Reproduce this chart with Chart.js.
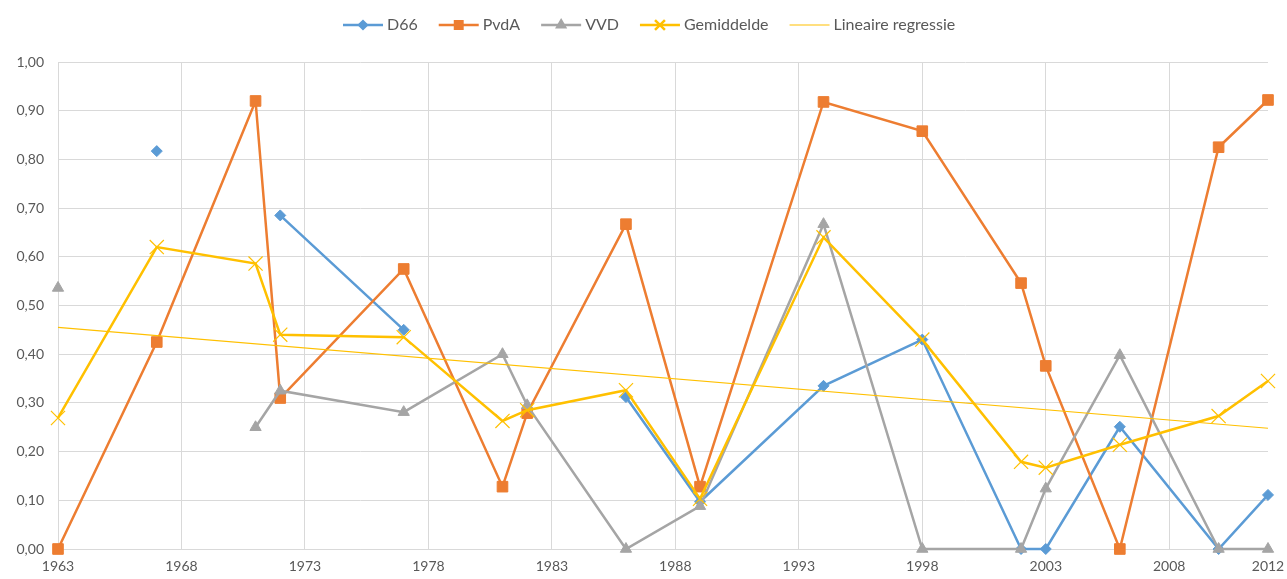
<!DOCTYPE html>
<html>
<head>
<meta charset="utf-8">
<script src="https://cdn.jsdelivr.net/npm/chart.js"></script>
<style>
  html, body { margin: 0; padding: 0; background: #fff; }
  #wrap { width: 1287px; height: 579px; }
</style>
</head>
<body>
<div id="wrap"><canvas id="chart" width="1287" height="579"></canvas></div>
<script>
// election years (x positions on the linear axis)
const years = [1963, 1967, 1971, 1972, 1977, 1981, 1982, 1986, 1989, 1994, 1998, 2002, 2003, 2006, 2010, 2012];

const d66 = [null, 0.817, null, 0.685, 0.45, null, null, 0.312, 0.097, 0.335, 0.43, 0, 0, 0.251, 0, 0.111];
const pvda = [0, 0.425, 0.92, 0.31, 0.575, 0.128, 0.279, 0.667, 0.128, 0.918, 0.858, 0.546, 0.376, 0, 0.825, 0.922];
const vvd = [0.536, null, 0.25, 0.325, 0.281, 0.40, 0.295, 0, 0.088, 0.667, 0, 0, 0.124, 0.398, 0, 0];
const gemiddelde = [0.269, 0.62, 0.586, 0.44, 0.435, 0.263, 0.285, 0.326, 0.103, 0.64, 0.43, 0.179, 0.167, 0.214, 0.273, 0.345];

// trendline end points
const trendYears = [1963, 2012];
const trendValues = [0.455, 0.248];

const xTicks = [1963, 1968, 1973, 1978, 1983, 1988, 1993, 1998, 2003, 2008, 2012];

const TEXT = '#595959';
const GRID = '#d9d9d9';
const FONT = 'Lato, "Liberation Sans", sans-serif';

function points(xs, ys) {
    return xs.map((x, i) => ({ x: x, y: ys[i] }));
}

function series(label, values, color, style, radius, order) {
    return {
        label: label,
        data: points(years, values),
        borderColor: color,
        backgroundColor: color,
        borderWidth: 2.5,
        pointStyle: style,
        pointRadius: radius,
        pointBorderColor: color,
        pointBackgroundColor: color,
        pointBorderWidth: 1,
        spanGaps: false,
        tension: 0,
        clip: false,
        order: order
    };
}

const datasets = [
    series('D66', d66, '#5b9bd5', 'rectRot', 5.5, 5),
    series('PvdA', pvda, '#ed7d31', 'rect', 7.5, 4),
    series('VVD', vvd, '#a5a5a5', 'triangle', 6.5, 3),
    Object.assign(series('Gemiddelde', gemiddelde, '#ffc000', 'crossRot', 10, 2), { pointBorderWidth: 1.2 }),
    {
        label: 'Lineaire regressie',
        data: points(trendYears, trendValues),
        borderColor: '#ffc000',
        borderWidth: 1.2,
        pointRadius: 0,
        clip: false,
        order: 1
    }
];

// Excel style legend: short line with the marker on top of it
const lineLegend = {
    id: 'lineLegend',
    afterDraw(chart) {
        const ctx = chart.ctx;
        let x = 343;
        const y = 25;
        ctx.save();
        ctx.font = '16px ' + FONT;
        ctx.textBaseline = 'middle';
        chart.data.datasets.forEach(ds => {
            ctx.strokeStyle = ds.borderColor;
            ctx.lineWidth = ds.borderWidth;
            ctx.beginPath();
            ctx.moveTo(x, y);
            ctx.lineTo(x + 40, y);
            ctx.stroke();
            if (ds.pointRadius) {
                ctx.fillStyle = ds.borderColor;
                ctx.strokeStyle = ds.borderColor;
                Chart.helpers.drawPoint(ctx, {
                    pointStyle: ds.pointStyle,
                    radius: ds.pointRadius * 0.7,
                    borderWidth: ds.pointBorderWidth,
                    rotation: 0
                }, x + 20, y);
            }
            ctx.fillStyle = TEXT;
            ctx.fillText(ds.label, x + 44, y);
            x += 44 + ctx.measureText(ds.label).width + 21;
        });
        ctx.restore();
    }
};

new Chart(document.getElementById('chart'), {
    type: 'line',
    data: { datasets: datasets },
    options: {
        responsive: false,
        animation: false,
        devicePixelRatio: 1,
        layout: { padding: { top: 62, right: 19, left: 0, bottom: 0 } },
        plugins: {
            legend: { display: false },
            tooltip: { enabled: false }
        },
        scales: {
            x: {
                type: 'linear',
                min: 1963,
                max: 2012,
                afterBuildTicks: scale => { scale.ticks = xTicks.map(v => ({ value: v })); },
                afterFit: scale => {
                    scale.height = 30;
                    scale.paddingLeft = 0;
                    scale.paddingRight = 0;
                },
                ticks: {
                    autoSkip: false,
                    maxRotation: 0,
                    padding: 9,
                    color: TEXT,
                    font: { family: FONT, size: 14 },
                    callback: v => String(v)
                },
                grid: {
                    drawTicks: false,
                    color: c => (c.tick && c.tick.value === 2012) ? 'rgba(0,0,0,0)' : GRID,
                    lineWidth: 1
                },
                border: { color: GRID, width: 1 }
            },
            y: {
                min: 0,
                max: 1,
                afterFit: scale => { scale.width = 58; },
                ticks: {
                    stepSize: 0.1,
                    padding: 14,
                    color: TEXT,
                    font: { family: FONT, size: 14 },
                    callback: v => v.toFixed(2).replace('.', ',')
                },
                grid: { drawTicks: false, color: GRID, lineWidth: 1 },
                border: { display: false }
            }
        }
    },
    plugins: [lineLegend]
});
</script>
</body>
</html>
